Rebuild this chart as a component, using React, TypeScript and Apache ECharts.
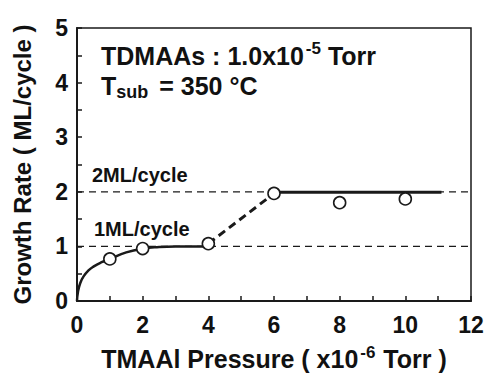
import React, { useEffect, useRef } from "react";
import * as echarts from "echarts";

const xTicks = [0, 2, 4, 6, 8, 10, 12];
const measuredX = [1, 2, 4, 6, 8, 10];
const measuredY = [0.77, 0.96, 1.05, 1.97, 1.8, 1.87];
const riseCurveX = [0, 0.03, 0.1, 0.2, 0.35, 0.5, 0.75, 1, 1.5, 2, 2.5, 3, 4];
const riseCurveY = [0, 0.17, 0.33, 0.45, 0.56, 0.63, 0.71, 0.77, 0.89, 0.96, 0.99, 1.0, 1.0];
const transitionX = [4, 6];
const transitionY = [1.05, 1.97];
const plateauX = [6, 11.1];
const plateauY = [1.99, 1.99];
const refLevels = [1, 2];
const refLabels = ["1ML/cycle", "2ML/cycle"];

const FONT = "Liberation Sans, Arial, Helvetica, sans-serif";

export default function App() {
  const ref = useRef<HTMLDivElement>(null);
  useEffect(() => {
    if (!ref.current) return;
    const chart = echarts.init(ref.current, null, { renderer: "svg" });
    const zip = (xs: number[], ys: number[]) => xs.map((x, i) => [x, ys[i]]);
    const lineColor = "#1a1a1a";
    const option: any = {
      animation: false,
      backgroundColor: "#ffffff",
      grid: {
        left: 77,
        right: 15,
        top: 28,
        bottom: 72,
        outerBoundsMode: "none",
        containLabel: false,
        show: true,
        borderColor: lineColor,
        borderWidth: 1.5,
        backgroundColor: "transparent",
      },
      xAxis: {
        type: "value",
        min: xTicks[0],
        max: xTicks[xTicks.length - 1],
        interval: 2,
        name: "{a|TMAAl Pressure ( x10}{sup|-6}{a| Torr )}",
        nameLocation: "middle",
        nameGap: 43,
        nameTextStyle: {
          fontFamily: FONT,
          fontWeight: "bold",
          fontSize: 25,
          color: "#111",
          rich: {
            a: { fontFamily: FONT, fontWeight: "bold", fontSize: 25, color: "#111", lineHeight: 26, verticalAlign: "bottom" },
            sup: { fontFamily: FONT, fontWeight: "bold", fontSize: 17, color: "#111", verticalAlign: "top", padding: [0, 1, 10, 2] },
          },
        },
        axisLine: { show: true, lineStyle: { color: lineColor, width: 2 } },
        axisTick: { show: true, inside: true, length: 5, lineStyle: { color: lineColor, width: 1.5 } },
        minorTick: { show: true, splitNumber: 2, length: 5, lineStyle: { color: lineColor, width: 1.5 } },
        axisLabel: { fontFamily: FONT, fontWeight: "bold", fontSize: 23, color: "#111", margin: 12 },
        splitLine: { show: false },
      },
      yAxis: {
        type: "value",
        min: 0,
        max: 5,
        interval: 1,
        name: "Growth Rate ( ML/cycle )",
        nameLocation: "middle",
        nameGap: 43,
        nameTextStyle: { fontFamily: FONT, fontWeight: "bold", fontSize: 24, color: "#111" },
        axisLine: { show: true, lineStyle: { color: lineColor, width: 2 } },
        axisTick: { show: true, inside: true, length: 5, lineStyle: { color: lineColor, width: 1.5 } },
        minorTick: { show: true, splitNumber: 2, length: 5, lineStyle: { color: lineColor, width: 1.5 } },
        axisLabel: { fontFamily: FONT, fontWeight: "bold", fontSize: 23, color: "#111", margin: 9 },
        splitLine: { show: false },
      },
      series: [
        ...refLevels.map((lv, i) => ({
          type: "line",
          name: refLabels[i],
          data: [[xTicks[0], lv], [xTicks[xTicks.length - 1], lv]],
          symbol: "none",
          lineStyle: { color: lineColor, width: 1.3, type: [7, 5] },
          z: 1,
        })),
        {
          type: "line",
          data: zip(riseCurveX, riseCurveY),
          smooth: true,
          symbol: "none",
          lineStyle: { color: lineColor, width: 2.5 },
          z: 2,
        },
        {
          type: "line",
          data: zip(transitionX, transitionY),
          symbol: "none",
          lineStyle: { color: lineColor, width: 3, type: [8, 5] },
          z: 2,
        },
        {
          type: "line",
          data: zip(plateauX, plateauY),
          symbol: "none",
          lineStyle: { color: lineColor, width: 3 },
          z: 2,
        },
        {
          type: "scatter",
          data: zip(measuredX, measuredY),
          symbol: "circle",
          symbolSize: 12,
          itemStyle: { color: "#ffffff", opacity: 1, borderColor: lineColor, borderWidth: 1.6 },
          emphasis: { disabled: true },
          z: 5,
        },
      ],
      graphic: [
        {
          type: "text",
          left: 101,
          top: 40,
          style: {
            text: "{a|TDMAAs : 1.0x10}{s|-5}{a| Torr}",
            rich: {
              a: { fontFamily: FONT, fontWeight: "bold", fontSize: 25, fill: "#111" },
              s: { fontFamily: FONT, fontWeight: "bold", fontSize: 17, fill: "#111", padding: [0, 0, 14, 2] },
            },
          },
        },
        {
          type: "text",
          left: 101,
          top: 73,
          style: {
            text: "{a|T}{s|sub}{a| = 350 °C}",
            rich: {
              a: { fontFamily: FONT, fontWeight: "bold", fontSize: 25, fill: "#111" },
              s: { fontFamily: FONT, fontWeight: "bold", fontSize: 18, fill: "#111", padding: [12, 4, 0, 0] },
            },
          },
        },
        {
          type: "text",
          left: 92,
          top: 165,
          style: { text: refLabels[1], fontFamily: FONT, fontWeight: "bold", fontSize: 20, fill: "#111" },
        },
        {
          type: "text",
          left: 94,
          top: 219,
          style: { text: refLabels[0], fontFamily: FONT, fontWeight: "bold", fontSize: 20, fill: "#111" },
        },
      ],
    };
    chart.setOption(option);
    return () => chart.dispose();
  }, []);
  return (
    <div
      ref={ref}
      style={{ position: "fixed", left: 0, top: 0, width: 486, height: 373, background: "#fff" }}
    />
  );
}
